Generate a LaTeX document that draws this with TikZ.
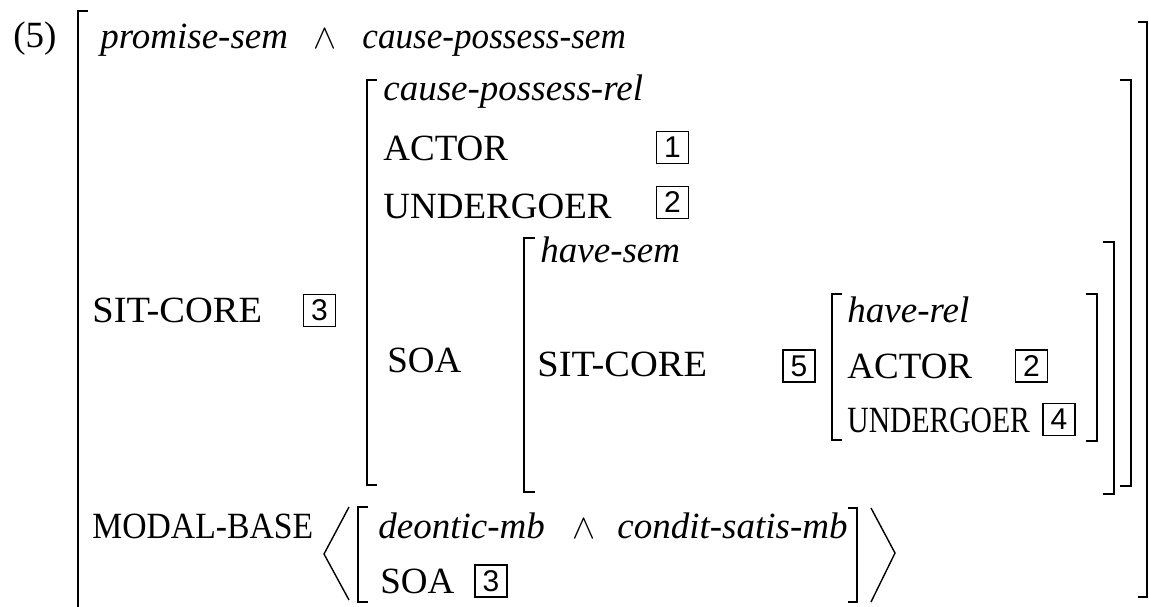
\documentclass[tikz,border=0pt]{standalone}
\usepackage{fontspec}
\usepackage{graphicx}
\setmainfont{Liberation Serif}
\newfontfamily\tagfont{Liberation Sans}
\begin{document}
\begin{tikzpicture}[x=0.5pt,y=-0.5pt,
  txt/.style={anchor=base west, inner sep=0pt, font=\fontsize{18.5}{22}\selectfont},
  it/.style={anchor=base west, inner sep=0pt, font=\fontsize{18.5}{22}\selectfont\itshape},
  tagbox/.style={draw, line width=0.6pt, minimum size=16pt, inner sep=0pt, font=\tagfont\fontsize{15}{15}\selectfont},
  brk/.style={line width=1pt, line join=miter},
  ang/.style={line width=0.7pt, line join=miter}]
\useasboundingbox (0,0) rectangle (1149,606);
\clip (0,0) rectangle (1149,606);
% texts
\node[txt] (ex) at (13,47) {(5)};
\node[it] (t1) at (100,48) {promise-sem};
\node[txt] (w1) at (313,48) {$\wedge$};
\node[it] (t2) at (362,48) {\scalebox{0.95}[1]{cause-possess-sem}};
\node[it] (t3) at (383,100) {cause-possess-rel};
\node[txt] (a1) at (383,160) {ACTOR};
\node[tagbox] (b1) at (672.5,147.5) {1};
\node[txt] (u1) at (383,218) {UNDERGOER};
\node[tagbox] (b2) at (672.5,202.5) {2};
\node[txt] (sc1) at (92,322) {\scalebox{1.04}[1]{SIT-CORE}};
\node[tagbox] (b3) at (319.5,310.5) {3};
\node[txt] (soa1) at (387,372) {SOA};
\node[it] (t4) at (540,262) {have-sem};
\node[txt] (sc2) at (537,376) {\scalebox{1.04}[1]{SIT-CORE}};
\node[tagbox] (b5) at (799,366) {5};
\node[it] (t5) at (847,322) {have-rel};
\node[txt] (a2) at (847,378) {ACTOR};
\node[tagbox] (b2b) at (1031.5,366) {2};
\node[txt] (u2) at (847,432) {\scalebox{0.8}[1]{UNDERGOER}};
\node[tagbox] (b4) at (1059,419.5) {4};
\node[txt] (mb) at (92,538) {\scalebox{0.91}[1]{MODAL-BASE}};
\node[it] (t6) at (378,538) {deontic-mb};
\node[txt] (w2) at (572,538) {$\wedge$};
\node[it] (t7) at (617,538) {condit-satis-mb};
\node[txt] (soa2) at (380,593) {SOA};
\node[tagbox] (b3b) at (491,581) {3};
% brackets
\draw[brk] (88,11) -- (78,11) -- (78,620);
\draw[brk] (1138,22) -- (1147,22) -- (1147,597) -- (1138,597);
\draw[brk] (377,80) -- (367,80) -- (367,485) -- (377,485);
\draw[brk] (1120,80) -- (1131,80) -- (1131,486) -- (1120,486);
\draw[brk] (535,238) -- (524,238) -- (524,492) -- (535,492);
\draw[brk] (1103,242) -- (1114,242) -- (1114,494) -- (1103,494);
\draw[brk] (842,294) -- (832,294) -- (832,440) -- (842,440);
\draw[brk] (1086,294) -- (1097,294) -- (1097,441) -- (1086,441);
\draw[brk] (368,507) -- (358,507) -- (358,602) -- (368,602);
\draw[brk] (848,508) -- (857,508) -- (857,602) -- (848,602);
\draw[ang] (349,507) -- (324,554) -- (349,600);
\draw[ang] (871,508) -- (895,553) -- (871,602);
\end{tikzpicture}
\end{document}
